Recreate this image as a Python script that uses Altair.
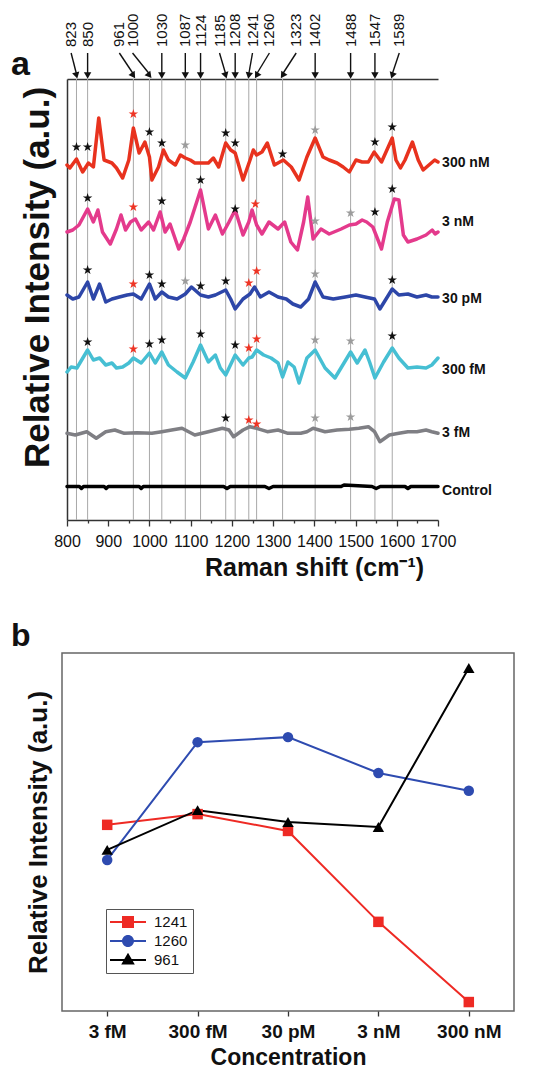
import math
import altair as alt
import pandas as pd

FONT = "Liberation Sans"

# ---------------- panel a : Raman spectra ----------------
peaks = [823, 850, 961, 1000, 1030, 1087, 1124, 1185, 1208, 1241, 1260, 1323, 1402, 1488, 1547, 1589]
label_pos = [810, 850, 927, 959, 1030, 1087, 1124, 1170, 1208, 1250, 1291, 1356, 1402, 1488, 1547, 1606]

trace_names = ["300 nM", "3 nM", "30 pM", "300 fM", "3 fM", "Control"]
trace_colors = ["#e8321e", "#e43a8c", "#2d46a8", "#46bfd3", "#7f7f84", "#000000"]
trace_widths = [3.5, 3.5, 3.5, 3.5, 3.5, 5]
trace_label_y = [357, 298, 221, 150, 87, 29]

red_x = [800, 807, 823, 838, 852, 864, 877, 890, 909, 920, 935, 950, 961, 975, 989, 1000,
         1006, 1022, 1034, 1046, 1063, 1075, 1087, 1099, 1110, 1126, 1143, 1155, 1168, 1185,
         1197, 1208, 1227, 1244, 1252, 1260, 1273, 1286, 1303, 1325, 1344, 1363, 1382, 1402,
         1421, 1436, 1455, 1470, 1485, 1501, 1516, 1531, 1545, 1563, 1589, 1598, 1609, 1620,
         1638, 1652, 1664, 1678, 1692, 1700]
red_y = [355, 352, 361, 348, 357, 353, 402, 360, 357, 352, 342, 360, 392, 367, 378, 363,
         340, 353, 370, 360, 355, 365, 362, 360, 357, 357, 357, 362, 353, 377,
         370, 367, 340, 360, 370, 365, 368, 377, 355, 360, 353, 340, 363, 382,
         363, 360, 357, 353, 348, 360, 358, 358, 368, 358, 382, 360, 352, 360,
         378, 360, 350, 355, 360, 358]

mag_x = [800, 814, 829, 850, 864, 875, 886, 905, 920, 931, 942, 954, 966, 980, 998, 1010,
         1026, 1038, 1050, 1071, 1083, 1099, 1124, 1143, 1160, 1177, 1193, 1208, 1227, 1241,
         1249, 1260, 1273, 1290, 1312, 1328, 1343, 1359, 1374, 1384, 1397, 1416, 1436, 1465,
         1485, 1501, 1516, 1527, 1542, 1563, 1577, 1594, 1605, 1616, 1627, 1649, 1671, 1686,
         1693, 1700]
mag_y = [288, 290, 295, 311, 298, 310, 288, 276, 291, 305, 290, 298, 301, 290, 298, 290,
         308, 288, 296, 271, 281, 298, 330, 291, 305, 286, 298, 310, 285, 298,
         310, 295, 286, 298, 291, 298, 278, 270, 298, 323, 281, 291, 286, 291,
         295, 296, 300, 298, 293, 271, 298, 321, 320, 285, 278, 281, 285, 290,
         286, 288]

blue_x = [800, 814, 829, 850, 864, 879, 894, 909, 927, 946, 961, 980, 1000, 1014, 1030, 1046,
          1067, 1087, 1102, 1124, 1143, 1160, 1185, 1197, 1208, 1227, 1244, 1255, 1269, 1290,
          1312, 1332, 1348, 1367, 1386, 1402, 1421, 1446, 1475, 1501, 1523, 1546, 1559, 1589,
          1605, 1627, 1649, 1671, 1685, 1700]
blue_y = [225, 221, 223, 238, 221, 236, 218, 221, 223, 225, 226, 221, 236, 221, 228, 223,
          221, 226, 233, 225, 223, 225, 230, 221, 211, 221, 226, 233, 223, 228,
          223, 221, 216, 213, 221, 238, 223, 221, 223, 225, 223, 221, 211, 231,
          225, 226, 223, 225, 223, 223]

cyan_x = [800, 810, 824, 850, 864, 879, 894, 909, 920, 935, 950, 961, 980, 1000, 1014, 1030,
          1046, 1067, 1087, 1106, 1124, 1143, 1160, 1172, 1185, 1208, 1227, 1241, 1249, 1260,
          1277, 1295, 1312, 1323, 1336, 1351, 1363, 1382, 1402, 1426, 1450, 1488, 1504, 1523,
          1534, 1547, 1568, 1589, 1605, 1627, 1649, 1671, 1685, 1700]
cyan_y = [148, 153, 152, 170, 160, 162, 155, 157, 152, 153, 157, 162, 157, 167, 157, 168,
          155, 148, 142, 158, 175, 158, 165, 152, 145, 165, 155, 162, 163, 170,
          165, 162, 157, 143, 158, 153, 137, 162, 170, 152, 142, 168, 157, 170,
          158, 142, 158, 172, 162, 152, 153, 152, 155, 162]

gray_x = [800, 820, 848, 871, 894, 916, 939, 970, 1006, 1030, 1054, 1079, 1110, 1143, 1177,
          1193, 1204, 1227, 1244, 1260, 1286, 1312, 1336, 1367, 1382, 1397, 1426, 1455, 1485,
          1508, 1531, 1546, 1559, 1582, 1605, 1627, 1649, 1671, 1685, 1700]
gray_y = [86.7, 85, 88.3, 81.7, 88.3, 90, 86.7, 87.3, 86.7, 88.3, 90, 91.7, 85, 88.3, 91.7,
          90, 83.3, 90, 93.3, 91.7, 88.3, 90, 86.7, 86.7, 88.3, 91.7, 88.3, 90, 90.7,
          91.7, 93.3, 88.3, 78.3, 85, 86.7, 88.3, 88.3, 90, 88.3, 86.7]

ctrl_x = [800, 830, 835, 840, 890, 895, 900, 975, 980, 985, 1180, 1188, 1196, 1280, 1290,
          1300, 1465, 1472, 1540, 1550, 1560, 1620, 1627, 1634, 1700]
ctrl_y = [33.5, 33.5, 31.5, 33.5, 33.5, 31.5, 33.5, 33.5, 31.5, 33.5, 33.5, 31.5, 33.5, 33.5, 31.5,
          33.5, 33.5, 35, 33.5, 31.5, 33.5, 33.5, 31.5, 33.5, 33.5]

# stars marking assigned peaks: trace, wavenumber, height, colour class
star_trace = (["300 nM"] * 12 + ["3 nM"] * 10 + ["30 pM"] * 11 + ["300 fM"] * 11 + ["3 fM"] * 5)
star_x = [823, 850, 961, 1000, 1030, 1087, 1185, 1208, 1323, 1402, 1547, 1589,
          850, 961, 1030, 1124, 1208, 1257, 1402, 1488, 1547, 1589,
          850, 961, 1000, 1030, 1087, 1124, 1185, 1241, 1260, 1402, 1589,
          850, 961, 1000, 1030, 1124, 1208, 1241, 1260, 1402, 1488, 1589,
          1185, 1241, 1260, 1402, 1488]
star_y = [373, 373, 406, 388, 377, 375, 387, 377, 366, 390, 378, 393,
          322, 313, 319, 340, 311, 316, 299, 307, 308, 331,
          250, 236, 245, 236, 239, 234, 239, 237, 249, 246, 240,
          178, 171, 176, 180, 186, 175, 172, 181, 180, 179, 184,
          102, 100, 96, 102, 103]
star_col = ["k", "k", "r", "k", "k", "g", "k", "k", "k", "g", "k", "k",
            "k", "r", "k", "k", "k", "r", "g", "g", "k", "k",
            "k", "r", "k", "k", "g", "k", "k", "r", "r", "g", "k",
            "k", "r", "k", "k", "k", "k", "r", "r", "g", "g", "k",
            "k", "r", "r", "g", "g"]
star_classes = ["k", "r", "g"]
star_colors = ["#111111", "#ee3424", "#9c9c9c"]

# ---------------- panel b : intensity vs concentration ----------------
conc = ["3 fM", "300 fM", "30 pM", "3 nM", "300 nM"]
series_names = ["1241", "1260", "961"]
series_colors = ["#ee2a24", "#2e4bb0", "#000000"]
series_shapes = ["square", "circle", "triangle-up"]
s1241 = [52.0, 55.0, 50.3, 24.9, 2.5]
s1260 = [42.2, 75.1, 76.5, 66.5, 61.5]
s961 = [45.0, 56.1, 52.8, 51.4, 95.8]

# ======================================================================
INSET = 5                 # panel a frame sits a little right of panel b's
W_A, H_A = 371 + INSET, 441
W_B, H_B = 452, 358
Y_TOP = 441               # top of panel a y-domain (a.u.)
LBL_Y = 473               # base of the rotated peak labels
ARROW_Y0, ARROW_Y1 = 467, 446

spec = pd.concat([
    pd.DataFrame({"trace": n, "x": xs_, "y": ys_})
    for n, xs_, ys_ in zip(trace_names,
                           [red_x, mag_x, blue_x, cyan_x, gray_x, ctrl_x],
                           [red_y, mag_y, blue_y, cyan_y, gray_y, ctrl_y])
], ignore_index=True)

stars = pd.DataFrame({"trace": star_trace, "x": star_x, "y": star_y, "c": star_col})

angles = []
for p, l in zip(peaks, label_pos):
    dxp = (p - l) * (W_A - INSET) / 900.0
    dyp = float(ARROW_Y0 - ARROW_Y1)
    angles.append((-math.degrees(math.atan2(dxp, dyp))) % 360)

pk = pd.DataFrame({"peak": peaks, "lx": label_pos, "lab": [str(p) for p in peaks],
                   "ly": LBL_Y, "y0": ARROW_Y0, "y1": ARROW_Y1, "ah": ARROW_Y1 - 1.5,
                   "ang": angles})

labels_df = pd.DataFrame({"trace": trace_names, "y": trace_label_y, "x": 1710})

xs = alt.Scale(domain=[800, 1700], range=[INSET, W_A], nice=False, zero=False)
ys = alt.Scale(domain=[0, Y_TOP], nice=False, zero=False)

STAR = ("M0,-1L0.2245,-0.309L0.951,-0.309L0.363,0.118L0.588,0.809L0,0.382"
        "L-0.588,0.809L-0.363,0.118L-0.951,-0.309L-0.2245,-0.309Z")

x_axis = alt.Axis(
    title="Raman shift (cm⁻¹)", values=list(range(800, 1701, 50)),
    labelExpr="datum.value % 100 === 0 ? datum.value : ''",
    tickSize={"condition": {"test": "datum.value % 100 === 0", "value": 6}, "value": 3},
    tickColor="#333", tickWidth=1.3, domainColor="#333", domainWidth=1.5,
    labelFont=FONT, labelFontSize=16, labelColor="#111", labelPadding=7,
    labelOverlap=False, labelFlush=False,
    titleFont=FONT, titleFontSize=25, titleFontWeight="bold", titleColor="#111",
    titleX=247 + INSET, titleAlign="center", titlePadding=6, grid=False)
top_axis = alt.Axis(orient="top", labels=False, ticks=False, title=None, grid=False,
                    domainColor="#333", domainWidth=1.5)
y_axis = alt.Axis(title="Relative Intensity (a.u.)", labels=False, ticks=False, offset=-INSET,
                  domainColor="#333", domainWidth=1.5, grid=False,
                  titleFont=FONT, titleFontSize=35, titleFontWeight="bold", titleColor="#111",
                  titlePadding=12, titleY=198)

vlines = alt.Chart(pk).mark_rule(color="#a8a8a8", strokeWidth=1).encode(
    x=alt.X("peak:Q", scale=xs, axis=top_axis),
    y=alt.value(0), y2=alt.value(H_A))

traces = alt.Chart(spec).mark_line(strokeCap="round", strokeJoin="round").encode(
    x=alt.X("x:Q", scale=xs, axis=x_axis),
    y=alt.Y("y:Q", scale=ys, axis=y_axis),
    color=alt.Color("trace:N", scale=alt.Scale(domain=trace_names, range=trace_colors), legend=None),
    strokeWidth=alt.StrokeWidth("trace:N", scale=alt.Scale(domain=trace_names, range=trace_widths), legend=None),
    detail="trace:N")

star_layers = [
    alt.Chart(stars).transform_filter(alt.datum.c == cls).mark_point(
        shape=STAR, filled=True, size=100, opacity=1, color=col).encode(
        x=alt.X("x:Q", scale=xs, axis=None), y=alt.Y("y:Q", scale=ys, axis=None))
    for cls, col in zip(star_classes, star_colors)
]

right_labels = alt.Chart(labels_df).mark_text(align="left", baseline="middle", font=FONT,
                                               fontSize=14, fontWeight="bold", color="#111").encode(
    x=alt.X("x:Q", scale=xs, axis=None), y=alt.Y("y:Q", scale=ys, axis=None), text="trace:N")

top_text = alt.Chart(pk).mark_text(angle=270, align="left", baseline="middle", font=FONT,
                                   fontSize=15, color="#111").encode(
    x=alt.X("lx:Q", scale=xs, axis=None), y=alt.Y("ly:Q", scale=ys, axis=None), text="lab:N")

arrows = alt.Chart(pk).mark_rule(color="#111", strokeWidth=1.4).encode(
    x=alt.X("lx:Q", scale=xs, axis=None), x2="peak:Q", y=alt.Y("y0:Q", scale=ys, axis=None), y2="y1:Q")

heads = alt.Chart(pk).mark_point(shape="triangle-down", filled=True, size=55, color="#111", opacity=1).encode(
    x=alt.X("peak:Q", scale=xs, axis=None), y=alt.Y("ah:Q", scale=ys, axis=None),
    angle=alt.Angle("ang:Q", scale=None))

letter_a = alt.Chart(pd.DataFrame({"t": ["a"]})).mark_text(
    align="left", baseline="alphabetic", font=FONT, fontSize=34, fontWeight="bold", color="#111").encode(
    x=alt.value(-51), y=alt.value(-4), text="t:N")

panel_a = alt.layer(vlines, traces, *star_layers, right_labels, arrows, heads, top_text, letter_a
                    ).resolve_axis(x="independent", y="independent").properties(width=W_A, height=H_A)

# ---------------- panel b ----------------
dfb = pd.DataFrame({
    "conc": conc * 3,
    "series": ["1241"] * 5 + ["1260"] * 5 + ["961"] * 5,
    "val": s1241 + s1260 + s961,
})

bx = alt.X("conc:N", sort=conc, scale=alt.Scale(type="point", padding=0.5),
           axis=alt.Axis(title="Concentration", labelAngle=0, domain=False, grid=False,
                         tickSize=5, tickColor="#333", tickWidth=1.3,
                         labelFont=FONT, labelFontSize=19, labelFontWeight="bold", labelColor="#111",
                         labelPadding=6,
                         titleFont=FONT, titleFontSize=23, titleFontWeight="bold", titleColor="#111",
                         titlePadding=5))
by = alt.Y("val:Q", scale=alt.Scale(domain=[0, 100], nice=False, zero=False),
           axis=alt.Axis(title="Relative Intensity (a.u.)", labels=False, ticks=False, domain=False,
                         grid=False, titleFont=FONT, titleFontSize=26, titleFontWeight="bold",
                         titleColor="#111", titlePadding=11))

col_b = alt.Color("series:N", scale=alt.Scale(domain=series_names, range=series_colors), legend=None)

lines_b = alt.Chart(dfb).mark_line(strokeWidth=2).encode(x=bx, y=by, color=col_b, detail="series:N")
point_layers = [
    alt.Chart(dfb).transform_filter(alt.datum.series == s).mark_point(
        shape=shp, filled=True, size=110 if shp != "triangle-up" else 130, opacity=1, color=c
    ).encode(x=bx, y=by)
    for s, shp, c in zip(series_names, series_shapes, series_colors)
]

# legend symbols: a short line through the marker (both drawn as filled shapes)
LEG_SQ = "M-2.25,-0.12H2.25V0.12H-2.25ZM-0.75,-0.75H0.75V0.75H-0.75Z"
LEG_CI = "M-2.25,-0.12H2.25V0.12H-2.25ZM0.75,0A0.75,0.75,0,1,1,-0.75,0A0.75,0.75,0,1,1,0.75,0Z"
LEG_TR = "M-2.25,-0.12H2.25V0.12H-2.25ZM0,-0.9L0.85,0.55H-0.85Z"

leg = alt.Legend(title=None, orient="none", legendX=44, legendY=830, padding=5,
                 strokeColor="#555", fillColor="white", symbolSize=256, symbolStrokeWidth=0,
                 symbolOffset=9, labelOffset=18, labelFont=FONT, labelFontSize=15,
                 labelColor="#111", rowPadding=3)
legend_layer = alt.Chart(dfb).mark_point(filled=True, opacity=1).encode(
    x=bx, y=by,
    fill=alt.Fill("series:N", scale=alt.Scale(domain=series_names, range=series_colors), legend=leg),
    shape=alt.Shape("series:N", scale=alt.Scale(domain=series_names, range=[LEG_SQ, LEG_CI, LEG_TR]), legend=leg),
).transform_filter("false")

letter_b = alt.Chart(pd.DataFrame({"t": ["b"]})).mark_text(
    align="left", baseline="alphabetic", font=FONT, fontSize=32, fontWeight="bold", color="#111").encode(
    x=alt.value(-51), y=alt.value(-7), text="t:N")

panel_b = alt.layer(lines_b, *point_layers, legend_layer, letter_b).properties(
    width=W_B, height=H_B, view=alt.ViewBackground(stroke="#666", strokeWidth=1.5))

chart = alt.vconcat(panel_a, panel_b, spacing=39).resolve_scale(
    color="independent", strokeWidth="independent"
).properties(
    padding={"left": 2, "top": 5, "right": 5, "bottom": 0}
).configure_view(stroke=None)

chart.save("out.html", embed_options={"renderer": "svg", "actions": False})
